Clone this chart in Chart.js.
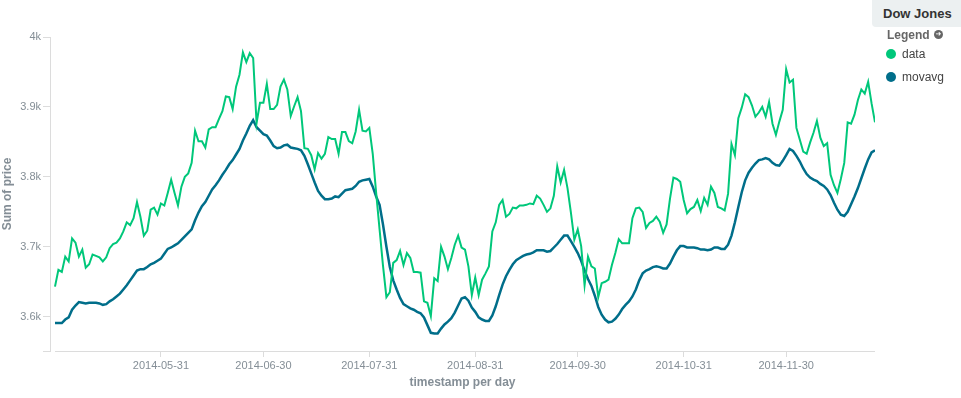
<!DOCTYPE html>
<html>
<head>
<meta charset="utf-8">
<script src="https://cdn.jsdelivr.net/npm/chart.js@4.4.1/dist/chart.umd.min.js"></script>
<style>
html,body{margin:0;padding:0;background:#fff;}
#wrap{position:relative;width:961px;height:398px;overflow:hidden;font-family:"Liberation Sans",Arial,Helvetica,sans-serif;}
#c{position:absolute;left:0;top:0;}
.hdr{position:absolute;left:872px;top:0;width:89px;height:27px;background:#ecf0f1;border-bottom-left-radius:4px;font-weight:bold;font-size:13px;color:#333;line-height:27px;box-sizing:border-box;padding-left:11px;white-space:nowrap;}
.lgt{position:absolute;left:887px;top:27px;font-weight:bold;font-size:12px;color:#666;line-height:16px;white-space:nowrap;}
.ico{display:inline-block;position:relative;top:-1px;width:9px;height:9px;border-radius:50%;background:#666;color:#fff;font-size:7px;line-height:9px;text-align:center;vertical-align:middle;margin-left:1px;font-family:"DejaVu Sans",sans-serif;font-weight:bold;}
.row{position:absolute;left:886px;font-size:12px;color:#444;line-height:14px;white-space:nowrap;}
.dot{display:inline-block;width:10px;height:10px;border-radius:50%;vertical-align:-1px;margin-right:6px;}
</style>
</head>
<body>
<div id="wrap">
  <canvas id="c" width="961" height="398"></canvas>
  <div class="hdr" id="hdr"></div>
  <div class="lgt"><span id="lgtxt"></span><span class="ico">&#10140;</span></div>
  <div id="rows"></div>
</div>
<script>
// ---- data ----
const chartTitle = 'Dow Jones';
const legendTitle = 'Legend';
const startDate = '2014-04-30';
const seriesNames = ['data', 'movavg'];
const seriesColors = ['#00c77a', '#006e8a'];
const xTitle = 'timestamp per day';
const yTitle = 'Sum of price';
const xTickLabels = ['2014-05-31','2014-06-30','2014-07-31','2014-08-31','2014-09-30','2014-10-31','2014-11-30'];
const yTickValues = [3600, 3700, 3800, 3900, 4000];
const yTickLabels = ['3.6k', '3.7k', '3.8k', '3.9k', '4k'];
const yMin = 3551;
const yMax = 4000;

const dataValues = [
3643,3667,3664,3686,3679,3712,3706,3686,3696,3670,
3675,3689,3687,3685,3679,3685,3698,3704,3706,3712,
3722,3735,3731,3741,3764,3743,3716,3723,3753,3756,
3746,3762,3759,3777,3796,3777,3759,3786,3800,3805,
3820,3866,3851,3851,3842,3868,3871,3871,3883,3894,
3915,3914,3897,3929,3946,3978,3964,3977,3970,3877,
3906,3906,3933,3897,3897,3903,3929,3939,3925,3887,
3901,3914,3894,3841,3840,3831,3811,3834,3826,3833,
3857,3854,3854,3833,3864,3864,3851,3848,3865,3896,
3866,3865,3870,3833,3777,3725,3673,3628,3635,3677,
3681,3694,3674,3691,3684,3664,3664,3663,3622,3620,
3601,3655,3651,3700,3686,3668,3684,3703,3716,3699,
3696,3672,3631,3656,3631,3653,3662,3672,3722,3735,
3760,3767,3743,3747,3756,3755,3759,3759,3760,3762,
3761,3773,3769,3760,3750,3755,3773,3815,3792,3810,
3784,3749,3710,3725,3701,3645,3686,3672,3669,3628,
3648,3650,3653,3674,3691,3711,3705,3705,3705,3741,
3755,3756,3750,3727,3734,3737,3743,3736,3720,3732,
3769,3799,3797,3793,3767,3748,3754,3757,3767,3751,
3770,3760,3786,3777,3757,3755,3752,3776,3847,3831,
3884,3899,3918,3914,3902,3886,3892,3900,3886,3907,
3876,3860,3879,3896,3954,3935,3939,3870,3853,3836,
3833,3849,3863,3880,3856,3844,3848,3803,3788,3777,
3797,3820,3878,3876,3889,3910,3925,3919,3936,3905,
3878
];

const movavgValues = [
3591,3591,3591,3596,3599,3610,3616,3621,3620,3619,
3620,3620,3620,3619,3617,3618,3622,3625,3629,3633,
3639,3645,3652,3659,3666,3668,3668,3671,3675,3677,
3680,3683,3690,3697,3699,3702,3705,3710,3715,3720,
3725,3738,3749,3758,3764,3773,3782,3788,3795,3803,
3810,3818,3824,3832,3840,3852,3862,3873,3881,3871,
3866,3861,3859,3852,3844,3841,3842,3845,3846,3842,
3841,3840,3838,3830,3818,3805,3792,3780,3773,3768,
3768,3769,3772,3771,3776,3781,3782,3783,3787,3793,
3795,3796,3797,3786,3772,3760,3732,3700,3671,3652,
3639,3627,3618,3615,3612,3610,3607,3605,3599,3588,
3577,3576,3576,3583,3589,3593,3598,3606,3616,3626,
3628,3623,3613,3607,3599,3596,3594,3594,3602,3615,
3631,3646,3658,3667,3675,3681,3684,3687,3689,3690,
3692,3695,3695,3695,3693,3694,3699,3704,3710,3716,
3716,3708,3700,3691,3680,3666,3654,3644,3630,3614,
3603,3596,3592,3593,3597,3603,3611,3617,3622,3629,
3639,3652,3662,3666,3668,3671,3672,3671,3669,3669,
3676,3686,3695,3701,3701,3699,3699,3699,3698,3696,
3696,3695,3696,3699,3699,3697,3697,3703,3716,3735,
3757,3778,3795,3806,3813,3819,3824,3825,3827,3825,
3820,3817,3816,3823,3831,3840,3837,3830,3822,3812,
3804,3799,3796,3794,3790,3787,3782,3774,3763,3753,
3746,3744,3750,3761,3772,3784,3798,3812,3825,3835,
3838
];

// ---- helpers ----
const DAY = 86400000;
const t0 = Date.parse(startDate + 'T00:00:00Z');
const dayOf = s => Math.round((Date.parse(s + 'T00:00:00Z') - t0) / DAY);
const xTickDays = xTickLabels.map(dayOf);
const lastDay = dataValues.length - 1;
const xLeftPad = 1.46; // days of empty axis before first point

const FONT = '"Liberation Sans", Arial, Helvetica, sans-serif';
const GREY = '#848e96';
const AXIS = '#dcdcdc';

// legend html
document.getElementById('hdr').textContent = chartTitle;
document.getElementById('lgtxt').textContent = legendTitle + ' ';
const rows = document.getElementById('rows');
seriesNames.forEach((n, i) => {
  const d = document.createElement('div');
  d.className = 'row';
  d.style.top = (47 + i * 23) + 'px';
  d.innerHTML = '<span class="dot" style="background:' + seriesColors[i] + '"></span>';
  d.appendChild(document.createTextNode(n));
  rows.appendChild(d);
});

const xAxisLine = {
  id: 'xAxisLine',
  beforeDatasetsDraw(chart) {
    const {ctx, chartArea, scales} = chart;
    const x = scales.x;
    ctx.save();
    ctx.strokeStyle = AXIS;
    ctx.lineWidth = 1;
    ctx.beginPath();
    const yy = Math.round(chartArea.bottom) + 0.5;
    ctx.moveTo(x.getPixelForValue(0), yy);
    ctx.lineTo(x.getPixelForValue(lastDay), yy);
    ctx.stroke();
    ctx.restore();
  }
};

new Chart(document.getElementById('c'), {
  type: 'line',
  data: {
    datasets: [
      {
        label: seriesNames[0],
        data: dataValues.map((v, i) => ({x: i, y: v})),
        borderColor: seriesColors[0],
        borderWidth: 2,
        pointRadius: 0,
        tension: 0,
        fill: false
      },
      {
        label: seriesNames[1],
        data: movavgValues.map((v, i) => ({x: i, y: v})),
        borderColor: seriesColors[1],
        borderWidth: 2.5,
        pointRadius: 0,
        tension: 0,
        fill: false
      }
    ]
  },
  options: {
    responsive: false,
    animation: false,
    devicePixelRatio: 1,
    layout: {padding: {left: 0, right: 86, top: 37, bottom: 0}},
    plugins: {legend: {display: false}, tooltip: {enabled: false}, title: {display: false}},
    scales: {
      x: {
        type: 'linear',
        min: -xLeftPad,
        max: lastDay,
        afterBuildTicks: s => { s.ticks = xTickDays.map(v => ({value: v})); },
        afterFit: s => { s.height = 47; },
        ticks: {
          autoSkip: false,
          maxRotation: 0,
          padding: 2,
          color: GREY,
          font: {family: FONT, size: 11},
          callback: v => { const k = xTickDays.indexOf(v); return k >= 0 ? xTickLabels[k] : ''; }
        },
        grid: {display: true, drawOnChartArea: false, drawTicks: true, tickLength: 6, color: AXIS},
        border: {display: false},
        title: {display: true, text: xTitle, color: GREY, font: {family: FONT, size: 12, weight: 'bold'}, padding: {top: 0, bottom: 8}}
      },
      y: {
        type: 'linear',
        min: yMin,
        max: yMax,
        afterBuildTicks: s => { s.ticks = [yMin].concat(yTickValues).map(v => ({value: v})); },
        afterFit: s => { s.width = 50; },
        ticks: {
          autoSkip: false,
          padding: 2,
          color: GREY,
          font: {family: FONT, size: 11},
          callback: v => { const k = yTickValues.indexOf(v); return k >= 0 ? yTickLabels[k] : ''; }
        },
        grid: {display: true, drawOnChartArea: false, drawTicks: true, tickLength: 7, color: AXIS},
        border: {display: true, color: AXIS},
        title: {display: true, text: yTitle, color: GREY, font: {family: FONT, size: 12, weight: 'bold'}, padding: {top: 0, bottom: 0}}
      }
    }
  },
  plugins: [xAxisLine]
});
</script>
</body>
</html>
